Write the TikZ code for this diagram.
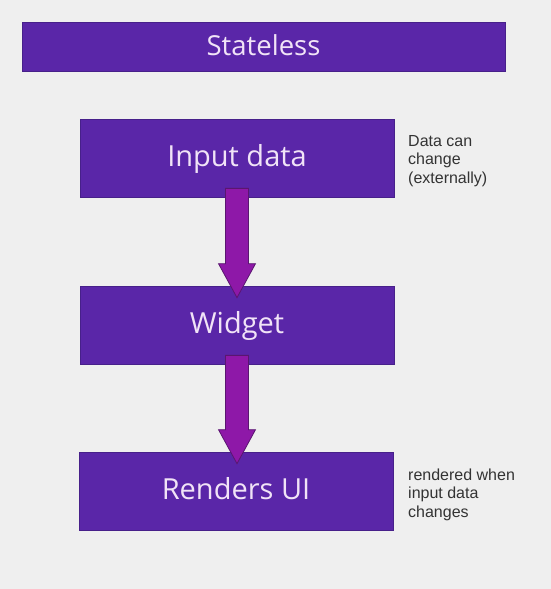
\documentclass[tikz,border=0pt]{standalone}
\usepackage{fontspec}
\setmainfont{Open Sans}
\newfontfamily\notefont{Liberation Sans}
\usetikzlibrary{calc,positioning}

\definecolor{bg}{HTML}{EFEFEF}
\definecolor{boxfill}{HTML}{5A26A8}
\definecolor{boxline}{HTML}{47208A}
\definecolor{boxtext}{HTML}{F1E3F7}
\definecolor{arrowfill}{HTML}{8E18A8}
\definecolor{arrowline}{HTML}{5A1670}
\definecolor{notetext}{HTML}{333333}

\tikzset{
  box/.style={draw=boxline, line width=0.7pt, fill=boxfill, text=boxtext, inner sep=0pt,
    font=\fontsize{29}{29}\selectfont, text height=20pt, text depth=3pt,
    minimum width=314pt, minimum height=78pt},
  note/.style={font=\notefont\fontsize{16}{18.5}\selectfont, text=notetext, align=left, inner sep=0pt},
  blockarrow/.style={draw=arrowline, line width=0.8pt, fill=arrowfill, line join=miter}
}

\begin{document}
\begin{tikzpicture}[x=1pt,y=-1pt]
       \fill[bg] (0,0) rectangle (551,589);
       \node[box, minimum width=483pt, minimum height=49pt, font=\fontsize{27.5}{27.5}\selectfont] (stateless) at (263.5,46.5) {Stateless};
       \node[box] (input) at (237,158) {Input data};
       \node[box] (widget) at (237,325) {Widget};
       \node[box] (ui) at (236,491) {Renders UI};
       \foreach \from/\to in {input/widget,widget/ui}{
         \path (\from.south |- \to.north) coordinate (head);
         \draw[blockarrow] ([xshift=-11.5pt,yshift=9pt]\from.south) -- ([xshift=-11.5pt,yshift=22pt]head)
           -- ([xshift=-18.5pt,yshift=22pt]head) -- ([yshift=-12pt]head) -- ([xshift=18.5pt,yshift=22pt]head)
           -- ([xshift=11.5pt,yshift=22pt]head) -- ([xshift=11.5pt,yshift=9pt]\from.south) -- cycle;
       }
       % base is the last line here
       \node[note, anchor=base west] (datanote) at (408,183) {Data can\\change\\(externally)};
       \node[note, anchor=base west] (uinote) at (408,517) {rendered when\\input data\\changes};
\end{tikzpicture}
\end{document}
